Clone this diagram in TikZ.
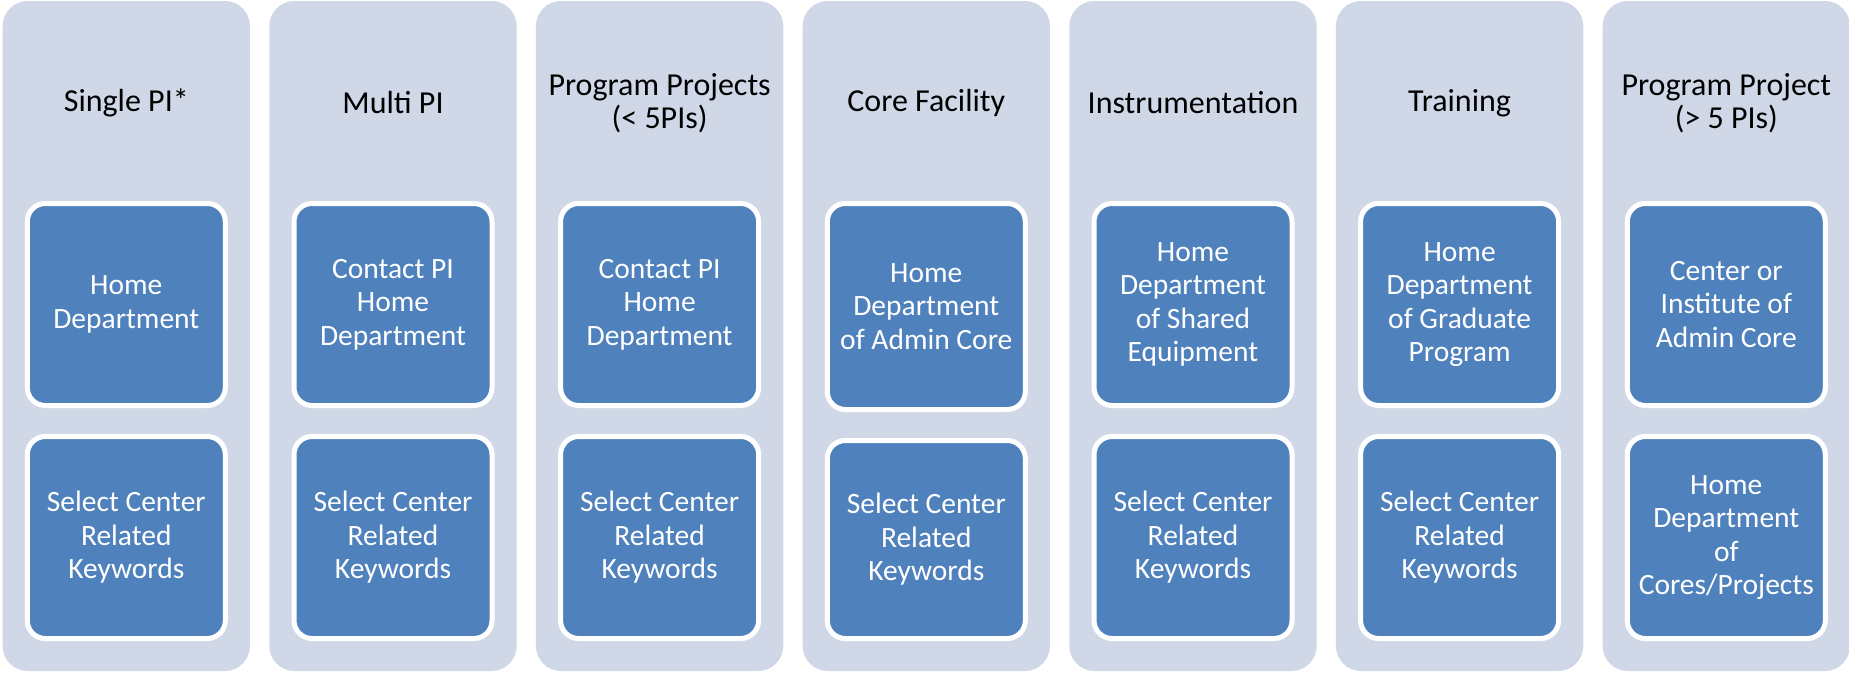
\documentclass[tikz,border=0pt]{standalone}
\usepackage{fontspec}
\setmainfont{Carlito}
\definecolor{colbg}{HTML}{D0D8E8}
\definecolor{boxblue}{HTML}{4F81BD}
\tikzset{
  colbox/.style={fill=colbg, draw=none, rounded corners=25pt, inner sep=0pt,
    minimum width=247.3pt, minimum height=670pt},
  titletext/.style={text=black, align=center, inner sep=0pt,
    font=\fontsize{32}{33}\selectfont},
  inbox/.style={fill=boxblue, draw=white, line width=5pt, rounded corners=18pt,
    text=white, align=center, inner sep=0pt, minimum width=198pt, minimum height=202pt,
    font=\fontsize{29.5}{33.5}\selectfont},
}
\begin{document}
\begin{tikzpicture}[x=1pt,y=-1pt]
\useasboundingbox (0,0) rectangle (1849,672);
% columns
\node[colbox] (c1) at (126.3,336) {};
\node[colbox] (c2) at (393.0,336) {};
\node[colbox] (c3) at (659.6,336) {};
\node[colbox] (c4) at (926.3,336) {};
\node[colbox] (c5) at (1193.0,336) {};
\node[colbox] (c6) at (1459.6,336) {};
\node[colbox] (c7) at (1726.3,336) {};
% titles
\node[titletext] (t1) at (126.3,103) {Single PI*};
\node[titletext] (t2) at (393.0,103) {Multi PI};
\node[titletext] (t3) at (659.6,103) {Program Projects\\(< 5PIs)};
\node[titletext] (t4) at (926.3,103) {Core Facility};
\node[titletext] (t5) at (1193.0,103) {Instrumentation};
\node[titletext] (t6) at (1459.6,103) {Training};
\node[titletext] (t7) at (1726.3,103) {Program Project\\(> 5 PIs)};
% upper boxes
\node[inbox] (a1) at (126.3,304.5) {Home\\Department};
\node[inbox] (a2) at (393.0,304.5) {Contact PI\\Home\\Department};
\node[inbox] (a3) at (659.6,304.5) {Contact PI\\Home\\Department};
\node[inbox, minimum height=206pt] (a4) at (926.3,306.5) {Home\\Department\\of Admin Core};
\node[inbox] (a5) at (1193.0,304.5) {Home\\Department\\of Shared\\Equipment};
\node[inbox] (a6) at (1459.6,304.5) {Home\\Department\\of Graduate\\Program};
\node[inbox] (a7) at (1726.3,304.5) {Center or\\Institute of\\Admin Core};
% lower boxes
\node[inbox] (b1) at (126.3,537.5) {Select Center\\Related\\Keywords};
\node[inbox] (b2) at (393.0,537.5) {Select Center\\Related\\Keywords};
\node[inbox] (b3) at (659.6,537.5) {Select Center\\Related\\Keywords};
\node[inbox, minimum height=198pt] (b4) at (926.3,539.5) {Select Center\\Related\\Keywords};
\node[inbox] (b5) at (1193.0,537.5) {Select Center\\Related\\Keywords};
\node[inbox] (b6) at (1459.6,537.5) {Select Center\\Related\\Keywords};
\node[inbox] (b7) at (1726.3,537.5) {Home\\Department\\of\\Cores/Projects};
\end{tikzpicture}
\end{document}
